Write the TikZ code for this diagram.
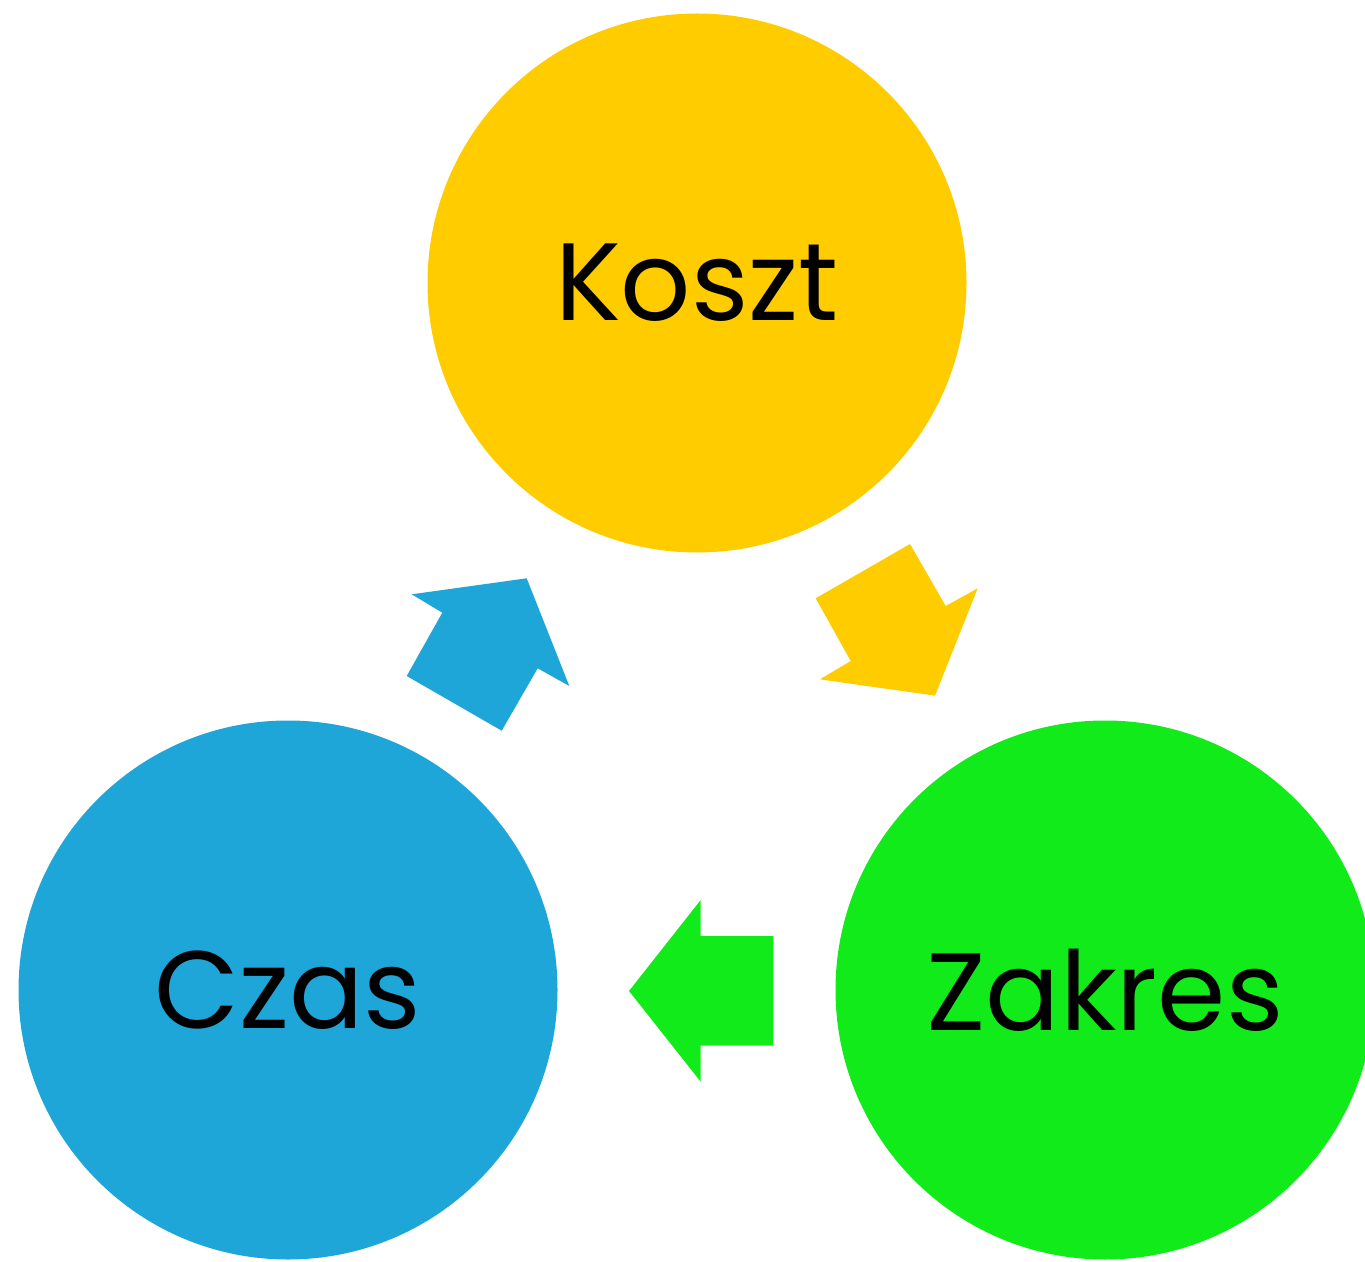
\documentclass[tikz,border=0pt]{standalone}
\usepackage{fontspec}
\setmainfont{Poppins}
\definecolor{cyellow}{HTML}{FFCC00}
\definecolor{cblue}{HTML}{1FA6D9}
\definecolor{cgreen}{HTML}{11EB1A}
\begin{document}
\begin{tikzpicture}[x=0.5pt,y=-0.5pt,
  bubble/.style={circle,inner sep=0pt,minimum size=269.5pt,text=black,
    font=\fontsize{55}{66}\selectfont},
  blockarrow/.style={draw=none}]
\useasboundingbox (0,0) rectangle (1365,1262);
\clip (0,0) rectangle (1365,1262);
\node[bubble,fill=cyellow] (koszt) at (697,283) {Koszt};
\node[bubble,fill=cblue] (czas) at (288,990) {Czas};
\node[bubble,fill=cgreen] (zakres) at (1105,990) {Zakres};
% block arrows
\fill[cblue] (411.7,594.3) -- (526.7,578.3) -- (569.3,686) -- (537.7,668.3)
  -- (501.7,730.7) -- (406.7,676) -- (442.3,612.7) -- cycle;
\fill[cyellow] (815.7,598.3) -- (910,544) -- (945.7,606) -- (977.7,588.3)
  -- (935,695.7) -- (820,679.3) -- (850.7,661) -- cycle;
\fill[cgreen] (629,991) -- (700.7,900) -- (700.7,936) -- (773.3,936)
  -- (773.3,1045.7) -- (700.7,1045.7) -- (700.7,1081.7) -- cycle;
\end{tikzpicture}
\end{document}
